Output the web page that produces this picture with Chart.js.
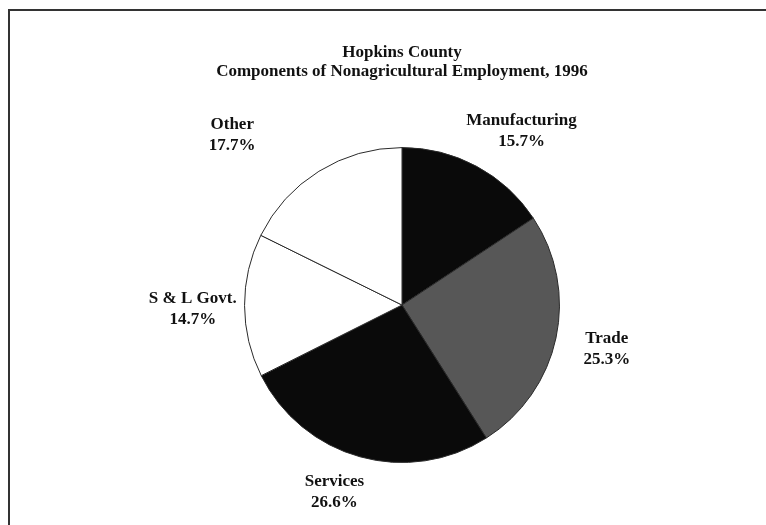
<!DOCTYPE html>
<html>
<head>
<meta charset="utf-8">
<script src="https://cdn.jsdelivr.net/npm/chart.js@4.4.1/dist/chart.umd.min.js"></script>
<style>
    html, body { margin: 0; padding: 0; background: #fff; }
    #wrap { width: 766px; height: 525px; position: relative; }
</style>
</head>
<body>
<div id="wrap"><canvas id="pie"></canvas></div>
<script>
// Hopkins County nonagricultural employment shares, 1996
const categories = ['Manufacturing', 'Trade', 'Services', 'S & L Govt.', 'Other'];
const shares = [15.7, 25.3, 26.6, 14.7, 17.7];
const sliceColors = ['#0a0a0a', '#575757', '#0a0a0a', '#ffffff', '#ffffff'];
const titleLines = ['Hopkins County', 'Components of Nonagricultural Employment, 1996'];

// label placement around the pie: angle nudge (deg) and distance (x radius)
const labelNudge = [6.3, 0, 4.4, -0.9, -13.1];
const labelDist = [1.338, 1.33, 1.262, 1.329, 1.526];

const serif = '"Liberation Serif", "Times New Roman", serif';

// scanned page frame: top and left rule only
const framePlugin = {
    id: 'frame',
    beforeDraw(chart) {
        const ctx = chart.ctx;
        ctx.save();
        ctx.strokeStyle = '#333';
        ctx.lineWidth = 2;
        ctx.beginPath();
        ctx.moveTo(766, 10);
        ctx.lineTo(9, 10);
        ctx.lineTo(9, 525);
        ctx.stroke();
        ctx.restore();
    }
};

const sliceLabels = {
    id: 'sliceLabels',
    afterDatasetsDraw(chart) {
        const ctx = chart.ctx;
        const meta = chart.getDatasetMeta(0);
        ctx.save();
        ctx.font = 'bold 17px ' + serif;
        ctx.fillStyle = '#111';
        ctx.textAlign = 'center';
        ctx.textBaseline = 'middle';
        meta.data.forEach((arc, i) => {
            const p = arc.getProps(['x', 'y', 'startAngle', 'endAngle', 'outerRadius'], true);
            const mid = (p.startAngle + p.endAngle) / 2 + labelNudge[i] * Math.PI / 180;
            const d = p.outerRadius * labelDist[i];
            const cx = p.x + Math.cos(mid) * d;
            const cy = p.y + Math.sin(mid) * d;
            ctx.fillText(categories[i], cx, cy - 10.5);
            ctx.fillText(shares[i].toFixed(1) + '%', cx, cy + 10.5);
        });
        ctx.restore();
    }
};

new Chart(document.getElementById('pie'), {
    type: 'pie',
    data: {
        labels: categories,
        datasets: [{
            data: shares,
            backgroundColor: sliceColors,
            borderColor: '#2a2a2a',
            borderWidth: 1
        }]
    },
    options: {
        responsive: true,
        maintainAspectRatio: false,
        animation: false,
        layout: {
            padding: { top: 0, left: 100, right: 62, bottom: 62 }
        },
        plugins: {
            legend: { display: false },
            tooltip: { enabled: false },
            title: {
                display: true,
                text: titleLines,
                color: '#111',
                font: { family: serif, size: 17, weight: 'bold', lineHeight: 1.12 },
                padding: { top: 43.5, bottom: 65.5 }
            }
        }
    },
    plugins: [framePlugin, sliceLabels]
});
</script>
</body>
</html>
